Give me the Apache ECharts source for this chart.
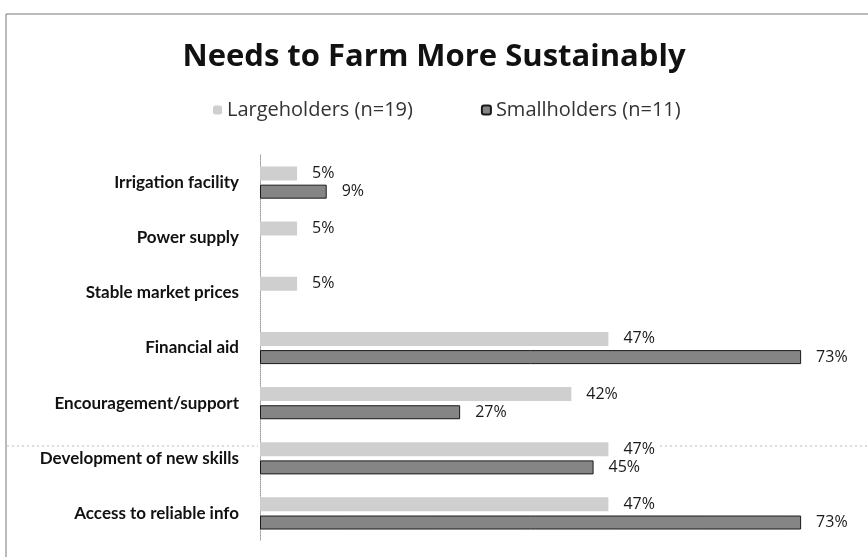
<!DOCTYPE html>
<html>
<head>
<meta charset="utf-8">
<script src="https://cdn.jsdelivr.net/npm/echarts@6/dist/echarts.min.js"></script>
<style>
  html, body { margin: 0; padding: 0; background: #fff; }
  #main { width: 868px; height: 557px; }
</style>
</head>
<body>
<div id="main"></div>
<script>
  // data
  var categories = [
    'Irrigation facility',
    'Power supply',
    'Stable market prices',
    'Financial aid',
    'Encouragement/support',
    'Development of new skills',
    'Access to reliable info'
  ];
  var largeholders = [5, 5, 5, 47, 42, 47, 47];
  var smallholders = [9, null, null, 73, 27, 45, 73];

  var myChart = echarts.init(document.getElementById('main'));

  var labelStyle = {
    show: true,
    position: 'right',
    distance: 15,
    formatter: '{c}%',
    color: '#1a1a1a',
    fontFamily: 'Open Sans',
    fontSize: 16
  };

  var option = {
    backgroundColor: '#fff',
    animation: false,
    title: {
      text: 'Needs to Farm More Sustainably',
      left: 'center',
      top: 37,
      textStyle: {
        fontFamily: 'Open Sans',
        fontWeight: 'bold',
        fontSize: 31,
        color: '#111'
      }
    },
    legend: {
      top: 95,
      left: 208,
      itemWidth: 9,
      itemHeight: 9,
      itemGap: 68,
      itemTextGap: 12,
      textStyle: { fontFamily: 'Open Sans', fontSize: 20, color: '#333' },
      data: ['Largeholders (n=19)', 'Smallholders (n=11)']
    },
    // frame of the chart area and the faint fold line of the scan
    graphic: [
      {
        type: 'rect',
        shape: { x: 6, y: 14, width: 870, height: 560 },
        style: { fill: 'none', stroke: '#777', lineWidth: 1 },
        silent: true
      },
      {
        type: 'line',
        shape: { x1: 7, y1: 446, x2: 258, y2: 446 },
        style: { stroke: '#bbb', lineWidth: 1, lineDash: [2, 3] },
        silent: true
      },
      {
        type: 'line',
        shape: { x1: 660, y1: 446, x2: 868, y2: 446 },
        style: { stroke: '#bbb', lineWidth: 1, lineDash: [2, 3] },
        silent: true
      }
    ],
    grid: { left: 260, right: 15, top: 155, bottom: 16 },
    xAxis: {
      type: 'value',
      min: 0,
      max: 80,
      show: false
    },
    yAxis: {
      type: 'category',
      inverse: true,
      data: categories,
      axisLine: { lineStyle: { color: '#999', type: 'dotted' } },
      axisTick: { show: false },
      axisLabel: {
        margin: 21,
        fontFamily: 'Lato',
        fontWeight: 'bold',
        fontSize: 17,
        color: '#111'
      }
    },
    series: [
      {
        name: 'Largeholders (n=19)',
        type: 'bar',
        data: largeholders,
        barWidth: 14,
        barGap: '30%',
        itemStyle: { color: '#cfcfcf' },
        label: labelStyle
      },
      {
        name: 'Smallholders (n=11)',
        type: 'bar',
        data: smallholders,
        barWidth: 14,
        itemStyle: { color: '#858585', borderColor: '#1a1a1a', borderWidth: 1 },
        label: labelStyle
      }
    ]
  };

  myChart.setOption(option);
</script>
</body>
</html>
